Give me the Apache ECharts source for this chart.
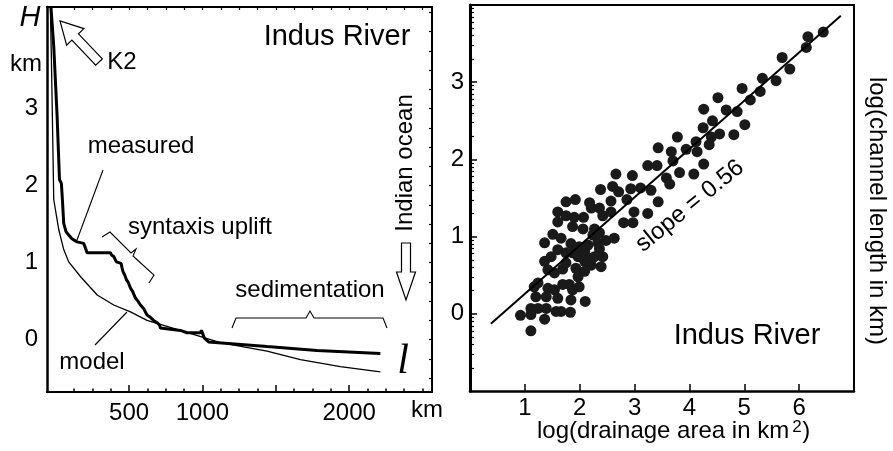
<!DOCTYPE html>
<html><head><meta charset="utf-8">
<script src="https://cdn.jsdelivr.net/npm/echarts@6/dist/echarts.min.js"></script>
<style>html,body{margin:0;padding:0;background:#fff}#c{width:893px;height:451px}</style>
</head><body><div id="c"></div>
<script>
// ---- Left panel: longitudinal profile of the Indus (distance km, elevation km)
const measuredKm = [-33,-14,9,25,38,45,54,70,88,110,145,190,200,213,372,380,395,413,445,452,459,470,481,495,509,525,543,560,577,600,622,645,667,690,708,713,849,895,986,993,1005,1013,1042,1440,1781,2213];
const measuredH  = [4.32,3.81,2.90,2.08,2.03,1.82,1.51,1.40,1.36,1.31,1.27,1.25,1.20,1.13,1.13,1.10,1.08,1.01,0.99,0.93,0.88,0.84,0.78,0.74,0.67,0.62,0.54,0.50,0.45,0.40,0.32,0.29,0.25,0.22,0.19,0.15,0.12,0.09,0.09,0.12,0.12,0.02,-0.03,-0.09,-0.14,-0.18];
const modelKm = [-37,-30,-23,-14,20,54,88,168,282,395,509,622,849,1122,1440,1668,1940,2213];
const modelH  = [4.32,3.64,2.86,1.82,1.43,1.17,1.01,0.82,0.58,0.45,0.36,0.25,0.12,-0.04,-0.15,-0.26,-0.35,-0.42];
const profileXLabels = [500,1000,2000];
const profileXMajorTicks = [500,1000,1500,2000];
const profileXMinorTicks = [125,250,375,625,750,875,1125,1250,1375,1625,1750,1875,2125,2250,2375,2500];
const profileYLabels = [0,1,2,3];
const profileYRightTicks = [-0.5,-0.25,0,0.25,0.5,0.75,1,1.25,1.5,1.75,2,2.25,2.5,2.75,3,3.25,3.5,3.75,4,4.25];

// ---- Right panel: log(channel length) vs log(drainage area)
const logArea = [6.44,6.16,6.13,5.69,5.83,5.33,5.58,4.96,5.29,5.11,4.52,4.26,4.67,4.87,4.42,4.25,5.01,3.78,4.12,4.55,4.81,4.40,4.36,3.67,3.94,4.14,3.70,4.26,3.82,4.08,3.58,3.64,
  3.43,3.24,3.41,2.66,2.96,2.38,2.60,2.71,2.93,3.11,3.30,1.92,1.75,2.18,2.57,2.86,3.43,2.21,2.36,1.60,1.75,1.90,2.07,2.42,2.57,2.99,3.24,1.87,2.06,2.27,2.80,2.97,1.60,
  1.51,1.36,1.66,2.36,2.24,2.48,2.63,1.84,1.99,2.15,2.33,2.36,1.60,1.75,1.36,1.48,1.42,1.54,1.69,1.75,1.87,1.97,2.09,2.18,2.27,2.42,2.39,2.21,2.09,1.93,2.09,1.97,
  1.24,1.17,1.42,1.54,1.69,1.81,1.87,1.99,1.20,1.39,1.60,1.84,2.10,1.11,1.24,1.39,1.57,1.66,1.83,0.92,1.11,1.36,1.11];
const logLength = [3.65,3.59,3.45,3.32,3.17,3.05,3.02,2.92,2.88,2.77,2.80,2.65,2.64,2.62,2.50,2.41,2.45,2.29,2.23,2.33,2.32,2.29,2.19,2.10,2.13,2.10,1.98,1.94,1.83,1.81,1.76,1.68,
  2.15,1.92,1.92,1.81,1.79,1.61,1.65,1.58,1.62,1.63,1.60,1.48,1.45,1.44,1.46,1.48,1.45,1.37,1.37,1.32,1.27,1.25,1.25,1.27,1.32,1.32,1.30,1.13,1.10,1.10,1.18,1.18,1.19,
  1.03,0.92,0.98,1.05,1.02,0.95,0.98,0.91,0.87,0.89,0.92,0.84,0.83,0.79,0.68,0.74,0.57,0.53,0.58,0.66,0.79,0.74,0.81,0.72,0.74,0.74,0.61,0.63,0.68,0.59,0.55,0.48,
  0.40,0.35,0.33,0.31,0.38,0.38,0.31,0.35,0.22,0.22,0.20,0.18,0.16,0.07,0.07,0.07,0.03,0.03,0.02,-0.02,-0.01,-0.07,-0.22];
const fitX = [0.38,6.76];
const fitY = [-0.13,3.86];
const scatterXLabels = [1,2,3,4,5,6];
const scatterYLabels = [0,1,2,3];

const zip = (a,b)=>a.map((v,i)=>[v,b[i]]);
const logMinor = [];
for (let n=-1;n<=3;n++) for (let k=2;k<=9;k++) logMinor.push(n+Math.log10(k));

const FONT = '"Liberation Sans", Arial, Helvetica, sans-serif';
const blackLine = w => ({show:true, onZero:false, lineStyle:{color:'#000', width:w}});
const noSplit = {show:false};
const plain = v => String(v);

const chart = echarts.init(document.getElementById('c'), null, {renderer:'canvas'});

// measure text for the superscript label
const ctx = document.createElement('canvas').getContext('2d');
ctx.font = '24px "Liberation Sans"';
const xNameMain = 'log(drainage area in km';
const xNameW = ctx.measureText(xNameMain).width;
const xNameLeft = 537;

chart.setOption({
  animation:false,
  backgroundColor:'#fff',
  textStyle:{fontFamily:FONT},
  grid:[
    {left:47, top:7, width:385, height:385},
    {left:470, top:5, width:384, height:386}
  ],
  xAxis:[
    {gridIndex:0, type:'value', position:'bottom', min:-60, max:2565,
      axisLine:blackLine(2), splitLine:noSplit,
      axisTick:{show:true, inside:true, length:7, customValues:profileXMajorTicks, lineStyle:{color:'#000', width:1.5}},
      axisLabel:{show:true, customValues:profileXLabels, formatter:plain, margin:9, fontSize:24, color:'#000', fontFamily:FONT}},
    {gridIndex:0, type:'value', position:'bottom', min:-60, max:2565,
      axisLine:{show:false, onZero:false}, splitLine:noSplit, axisLabel:{show:false},
      axisTick:{show:true, inside:true, length:3.5, customValues:profileXMinorTicks, lineStyle:{color:'#000', width:1.5}}},
    {gridIndex:0, type:'value', position:'top', min:-60, max:2565,
      axisLine:blackLine(2), splitLine:noSplit, axisLabel:{show:false},
      axisTick:{show:true, inside:true, length:3, customValues:profileXMajorTicks.concat(profileXMinorTicks), lineStyle:{color:'#000', width:1.2}}},
    {gridIndex:1, type:'value', position:'bottom', min:0, max:7,
      axisLine:blackLine(2.5), splitLine:noSplit,
      axisTick:{show:true, inside:true, length:7, customValues:scatterXLabels, lineStyle:{color:'#000', width:1.5}},
      axisLabel:{show:true, customValues:scatterXLabels, formatter:plain, margin:5, fontSize:24, color:'#000', fontFamily:FONT}},
    {gridIndex:1, type:'value', position:'top', min:0, max:7,
      axisLine:blackLine(2), splitLine:noSplit, axisLabel:{show:false}, axisTick:{show:false}}
  ],
  yAxis:[
    {gridIndex:0, type:'value', position:'left', min:-0.68, max:4.32,
      axisLine:blackLine(2.5), splitLine:noSplit, axisTick:{show:false},
      axisLabel:{show:true, customValues:profileYLabels, formatter:plain, margin:9, fontSize:24, color:'#000', fontFamily:FONT}},
    {gridIndex:0, type:'value', position:'right', min:-0.68, max:4.32,
      axisLine:blackLine(2), splitLine:noSplit, axisLabel:{show:false},
      axisTick:{show:true, inside:true, length:3, customValues:profileYRightTicks, lineStyle:{color:'#000', width:1.2}}},
    {gridIndex:1, type:'value', position:'left', min:-1, max:4,
      axisLine:blackLine(3), splitLine:noSplit,
      axisTick:{show:true, inside:true, length:7, customValues:scatterYLabels, lineStyle:{color:'#000', width:1.5}},
      axisLabel:{show:true, customValues:scatterYLabels, formatter:plain, margin:6, fontSize:24, color:'#000', fontFamily:FONT}},
    {gridIndex:1, type:'value', position:'left', min:-1, max:4,
      axisLine:{show:false, onZero:false}, splitLine:noSplit, axisLabel:{show:false},
      axisTick:{show:true, inside:true, length:4, customValues:logMinor, lineStyle:{color:'#000', width:1.2}}},
    {gridIndex:1, type:'value', position:'right', min:-1, max:4,
      axisLine:blackLine(2), splitLine:noSplit, axisLabel:{show:false}, axisTick:{show:false}}
  ],
  series:[
    {name:'model', type:'line', xAxisIndex:0, yAxisIndex:0, data:zip(modelKm, modelH),
      showSymbol:false, symbol:'none', lineStyle:{color:'#000', width:1.3}, z:3},
    {name:'measured', type:'line', xAxisIndex:0, yAxisIndex:0, data:zip(measuredKm, measuredH),
      showSymbol:false, symbol:'none', lineStyle:{color:'#000', width:3}, z:4},
    {name:'rivers', type:'scatter', xAxisIndex:3, yAxisIndex:2, data:zip(logArea, logLength),
      symbol:'circle', symbolSize:11, itemStyle:{color:'#1a1a1a', opacity:1}, z:3},
    {name:'fit', type:'line', xAxisIndex:3, yAxisIndex:2, data:zip(fitX, fitY),
      showSymbol:false, symbol:'none', lineStyle:{color:'#000', width:2}, z:4}
  ],
  graphic:[
    // left panel texts
    {type:'text', z:100, x:30, y:18, style:{text:'H', fontSize:29, fontStyle:'italic', fontFamily:FONT, fill:'#000', align:'center', verticalAlign:'middle'}},
    {type:'text', z:100, x:26, y:64, style:{text:'km', fontSize:24, fontFamily:FONT, fill:'#000', align:'center', verticalAlign:'middle'}},
    {type:'text', z:100, x:337, y:37, style:{text:'Indus River', fontSize:29, fontFamily:FONT, fill:'#000', align:'center', verticalAlign:'middle'}},
    {type:'text', z:100, x:122, y:62, style:{text:'K2', fontSize:24, fontFamily:FONT, fill:'#000', align:'center', verticalAlign:'middle'}},
    {type:'text', z:100, x:141, y:146, style:{text:'measured', fontSize:24, fontFamily:FONT, fill:'#000', align:'center', verticalAlign:'middle'}},
    {type:'text', z:100, x:200, y:227, style:{text:'syntaxis uplift', fontSize:24, fontFamily:FONT, fill:'#000', align:'center', verticalAlign:'middle'}},
    {type:'text', z:100, x:310, y:290, style:{text:'sedimentation', fontSize:24, fontFamily:FONT, fill:'#000', align:'center', verticalAlign:'middle'}},
    {type:'text', z:100, x:92, y:362, style:{text:'model', fontSize:24, fontFamily:FONT, fill:'#000', align:'center', verticalAlign:'middle'}},
    {type:'text', z:100, x:405, y:163, rotation:Math.PI/2, style:{text:'Indian ocean', fontSize:24, fontFamily:FONT, fill:'#000', align:'center', verticalAlign:'middle'}},
    {type:'text', z:100, x:403, y:362, style:{text:'l', fontSize:42, fontStyle:'italic', fontFamily:'"Liberation Serif", "Times New Roman", serif', fill:'#000', align:'center', verticalAlign:'middle'}},
    {type:'text', z:100, x:427, y:410, style:{text:'km', fontSize:24, fontFamily:FONT, fill:'#000', align:'center', verticalAlign:'middle'}},
    // K2 arrow
    {type:'polygon', z:100, shape:{points:[[102.3,58.9],[78.5,33.8],[83.9,28.6],[60,21],[66.6,45.2],[71.9,40.0],[95.7,65.1]]}, style:{fill:'#fff', stroke:'#000', lineWidth:1.2}},
    // Indian ocean arrow
    {type:'polygon', z:100, shape:{points:[[401.5,243],[410.5,243],[410.5,272],[415.5,272],[406,300],[396.5,272],[401.5,272]]}, style:{fill:'#fff', stroke:'#000', lineWidth:1.2}},
    // pointer lines
    {type:'line', z:100, shape:{x1:103, y1:170, x2:77, y2:240}, style:{stroke:'#000', lineWidth:1.1}},
    {type:'line', z:100, shape:{x1:95, y1:345, x2:127, y2:312}, style:{stroke:'#000', lineWidth:1.1}},
    // syntaxis bracket
    {type:'polyline', z:100, shape:{points:[[102,237],[110,232],[131,253],[136,249],[133,256],[154,275],[149,283]]}, style:{stroke:'#000', lineWidth:1.1, fill:null}},
    // sedimentation brace
    {type:'polyline', z:100, shape:{points:[[232,328],[236,318],[306,318],[310,311],[314,318],[383,318],[387,328]]}, style:{stroke:'#000', lineWidth:1.1, fill:null}},
    // right panel texts
    {type:'text', z:100, x:747, y:336, style:{text:'Indus River', fontSize:29, fontFamily:FONT, fill:'#000', align:'center', verticalAlign:'middle'}},
    {type:'text', z:100, x:690, y:206, rotation:39*Math.PI/180, style:{text:'slope = 0.56', fontSize:24, fontFamily:FONT, fill:'#000', align:'center', verticalAlign:'middle'}},
    {type:'text', z:100, x:877, y:211, rotation:-Math.PI/2, style:{text:'log(channel length in km)', fontSize:24, fontFamily:FONT, fill:'#000', align:'center', verticalAlign:'middle'}},
    {type:'text', z:100, x:xNameLeft, y:431, style:{text:xNameMain, fontSize:24, fontFamily:FONT, fill:'#000', align:'left', verticalAlign:'middle'}},
    {type:'text', z:100, x:xNameLeft+xNameW+3, y:427, style:{text:'2', fontSize:17, fontFamily:FONT, fill:'#000', align:'left', verticalAlign:'middle'}},
    {type:'text', z:100, x:xNameLeft+xNameW+13, y:431, style:{text:')', fontSize:24, fontFamily:FONT, fill:'#000', align:'left', verticalAlign:'middle'}}
  ]
});
</script></body></html>
